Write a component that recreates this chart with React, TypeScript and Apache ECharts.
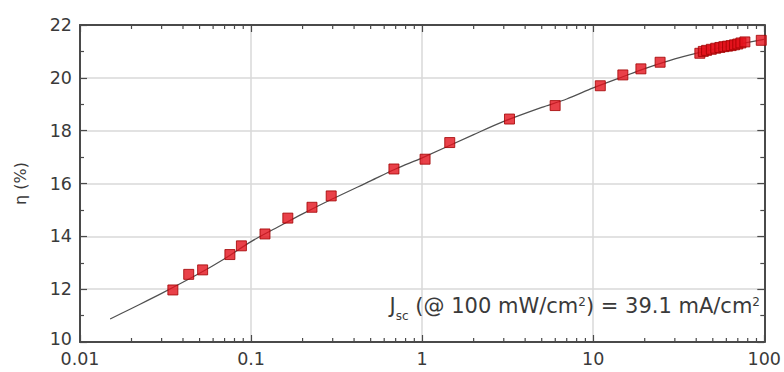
import React, { useEffect, useRef } from "react";
import * as echarts from "echarts";

// Measured points: [J (mA/cm2), efficiency (%)]
const measuredX = [
  0.0349, 0.0432, 0.0521, 0.0752, 0.0878, 0.1206, 0.164, 0.227, 0.294,
  0.684, 1.04, 1.45, 3.24, 5.99, 11.0, 14.9, 19.0, 24.6,
  42, 44, 46, 49, 52, 55, 58, 61, 64, 67, 70, 73, 77, 96,
];
const measuredY = [
  11.97, 12.56, 12.73, 13.31, 13.64, 14.09, 14.69, 15.10, 15.53,
  16.55, 16.92, 17.55, 18.44, 18.95, 19.70, 20.11, 20.34, 20.59,
  20.93, 21.0, 21.04, 21.08, 21.12, 21.15, 21.18, 21.2, 21.22, 21.25, 21.28, 21.32, 21.36, 21.42,
];

// Fitted curve
const fitX = [0.015, 0.02, 0.03, 0.05, 0.07, 0.1, 0.15, 0.2, 0.3, 0.5, 0.7, 1, 2, 3, 5, 7, 10, 15, 20, 30, 50, 70, 100];
const fitY = [10.87, 11.27, 11.84, 12.6, 13.15, 13.8, 14.42, 14.85, 15.42, 16.1, 16.55, 16.97, 17.85, 18.35, 18.88, 19.2, 19.62, 20.05, 20.35, 20.72, 21.08, 21.27, 21.46];

// Axis tick labels
const xTickLabels = ["0.01", "0.1", "1", "10", "100"];
const xMinorTicks = [
  0.02, 0.03, 0.04, 0.05, 0.06, 0.07, 0.08, 0.09,
  0.2, 0.3, 0.4, 0.5, 0.6, 0.7, 0.8, 0.9,
  2, 3, 4, 5, 6, 7, 8, 9,
  20, 30, 40, 50, 60, 70, 80, 90,
];

const FONT = "'DejaVu Sans', Arial, sans-serif";
const AXIS_COLOR = "#4a4a4a";
const TEXT_COLOR = "#3a3a3a";

export default function App() {
  const ref = useRef<HTMLDivElement>(null);

  useEffect(() => {
    if (!ref.current) return;
    const chart = echarts.init(ref.current, null, { renderer: "svg" });

    const measured = measuredX.map((x, i) => [x, measuredY[i]]);
    const fit = fitX.map((x, i) => [x, fitY[i]]);

    const baseX = {
      type: "log",
      logBase: 10,
      min: 0.01,
      max: 100,
      axisLine: { show: true, lineStyle: { color: AXIS_COLOR, width: 2 } },
      axisTick: { show: true, inside: true, length: 7, lineStyle: { color: AXIS_COLOR, width: 1.2 } },
    };
    const baseY = {
      type: "value",
      min: 10,
      max: 22,
      interval: 2,
      axisLine: { show: true, lineStyle: { color: AXIS_COLOR, width: 2 } },
      axisTick: { show: true, inside: true, length: 7, lineStyle: { color: AXIS_COLOR, width: 1.2 } },
      minorTick: { show: true, splitNumber: 2, length: 4, lineStyle: { color: AXIS_COLOR, width: 1.2 } },
    };

    chart.setOption({
      animation: false,
      backgroundColor: "#ffffff",
      grid: { left: 80, right: 16, top: 25, bottom: 30, containLabel: false },
      xAxis: [
        {
          ...baseX,
          position: "bottom",
          axisLabel: {
            show: true,
            color: TEXT_COLOR,
            fontSize: 17.5,
            fontFamily: FONT,
            margin: 8,
            lineHeight: 18,
            formatter: (v: number) => xTickLabels[Math.round(Math.log10(v)) + 2] ?? String(v),
          },
          splitLine: { show: true, lineStyle: { color: "#d9d9d9", width: 1.5 } },
        },
        {
          ...baseX,
          position: "top",
          axisLabel: { show: false },
          splitLine: { show: false },
        },
      ],
      yAxis: [
        {
          ...baseY,
          position: "left",
          name: "η (%)",
          nameLocation: "middle",
          nameGap: 52,
          nameRotate: 90,
          nameTextStyle: { color: TEXT_COLOR, fontSize: 16, fontFamily: FONT },
          axisLabel: {
            show: true,
            color: TEXT_COLOR,
            fontSize: 17.5,
            fontFamily: FONT,
            margin: 8,
            lineHeight: 18,
            formatter: (v: number) => (v === 10 ? "{low|10}" : String(v)),
            rich: {
              low: { fontSize: 17.5, fontFamily: FONT, color: TEXT_COLOR, lineHeight: 18, padding: [0, 0, 7, 0] },
            },
          },
          splitLine: { show: true, lineStyle: { color: "#d9d9d9", width: 1.5 } },
        },
        {
          ...baseY,
          position: "right",
          axisLabel: { show: false },
          splitLine: { show: false },
        },
      ],
      series: [
        {
          type: "custom",
          xAxisIndex: 0,
          yAxisIndex: 0,
          silent: true,
          clip: false,
          data: xMinorTicks.map((v) => [v]),
          renderItem: (params: any, api: any) => {
            const v = api.value(0);
            const b = api.coord([v, 10]);
            const t = api.coord([v, 22]);
            const style = { stroke: AXIS_COLOR, lineWidth: 1.2 };
            return {
              type: "group",
              children: [
                { type: "line", shape: { x1: b[0], y1: b[1], x2: b[0], y2: b[1] - 4 }, style },
                { type: "line", shape: { x1: t[0], y1: t[1], x2: t[0], y2: t[1] + 4 }, style },
              ],
            };
          },
          z: 3,
        },
        {
          type: "line",
          data: fit,
          smooth: 0.3,
          symbol: "none",
          lineStyle: { color: "#505050", width: 1.2 },
          z: 2,
        },
        {
          type: "scatter",
          data: measured,
          symbol: "rect",
          symbolSize: 10,
          itemStyle: { color: "#e3111b", borderColor: "#a00000", borderWidth: 1 },
          z: 4,
        },
      ],
      graphic: [
        {
          type: "text",
          right: 24,
          top: 295,
          z: 10,
          style: {
            text: "{a|J}{s|sc}{a| (@ 100 mW/cm}{p|2}{a|) = 39.1 mA/cm}{p|2}",
            fill: TEXT_COLOR,
            rich: {
              a: { fontSize: 21, fontFamily: FONT, fill: TEXT_COLOR, lineHeight: 33, verticalAlign: "middle" },
              s: { fontSize: 12, fontFamily: FONT, fill: TEXT_COLOR, lineHeight: 12, verticalAlign: "bottom" },
              p: { fontSize: 12, fontFamily: FONT, fill: TEXT_COLOR, lineHeight: 12, verticalAlign: "middle", padding: [0, 0, 8, 0] },
            },
          },
        },
      ],
    });

    return () => chart.dispose();
  }, []);

  return (
    <div
      ref={ref}
      style={{ position: "fixed", left: 0, top: 0, width: 784, height: 372, background: "#fff" }}
    />
  );
}
